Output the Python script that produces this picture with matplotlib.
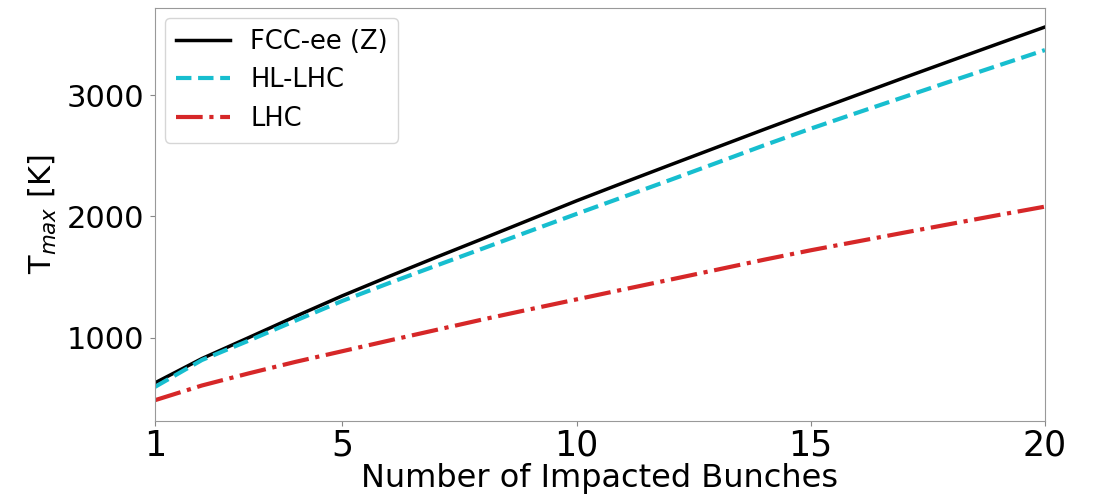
import matplotlib
matplotlib.use('Agg')
import matplotlib.pyplot as plt
import numpy as np

n_bunches = np.arange(1, 21)
t_fcc = [627, 827, 1000, 1175, 1345, 1505, 1662, 1816, 1972, 2128,
         2277, 2424, 2570, 2716, 2860, 3002, 3144, 3284, 3423, 3561]
t_hllhc = [594, 815, 975, 1140, 1303, 1450, 1593, 1735, 1878, 2020,
           2160, 2300, 2442, 2585, 2723, 2855, 2985, 3115, 3243, 3371]
t_lhc = [484, 605, 705, 800, 888, 976, 1063, 1150, 1233, 1315,
         1397, 1478, 1560, 1642, 1720, 1793, 1866, 1938, 2010, 2080]

fig = plt.figure(figsize=(11.02, 4.99), dpi=100)
ax = fig.add_axes([0.1407, 0.156, 0.8075, 0.828])

ax.plot(n_bunches, t_fcc, color='black', lw=2.5, label='FCC-ee (Z)')
ax.plot(n_bunches, t_hllhc, color='#17becf', lw=3, ls='--', label='HL-LHC')
ax.plot(n_bunches, t_lhc, color='#d62728', lw=3, ls='-.', label='LHC')

ax.set_xlim(1, 20)
ax.set_ylim(311, 3718)
ax.set_xticks([1, 5, 10, 15, 20])
ax.set_yticks([1000, 2000, 3000])
ax.tick_params(axis='x', labelsize=25, color='#888888', pad=2)
ax.tick_params(axis='y', labelsize=22, color='#888888', pad=4)
for s in ax.spines.values():
    s.set_color('#999999')

ax.set_xlabel('Number of Impacted Bunches', fontsize=23, labelpad=0)
ax.set_ylabel(r'T$_{max}$ [K]', fontsize=22, labelpad=6)
ax.legend(loc='upper left', fontsize=18.5, handlelength=2.1,
          borderaxespad=0.4)

fig.savefig('out.png', dpi=100)
